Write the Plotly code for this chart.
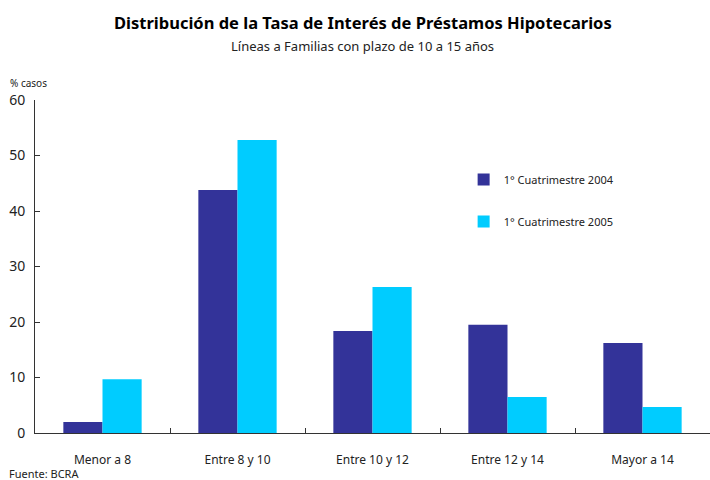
import plotly.graph_objects as go

categories = ["Menor a 8", "Entre 8 y 10", "Entre 10 y 12", "Entre 12 y 14", "Mayor a 14"]
series_2004 = [2.0, 43.8, 18.4, 19.5, 16.2]
series_2005 = [9.7, 52.8, 26.3, 6.5, 4.7]
name_2004 = "1° Cuatrimestre 2004"
name_2005 = "1° Cuatrimestre 2005"
y_ticks = [0, 10, 20, 30, 40, 50, 60]

FONT = "Noto Sans"

fig = go.Figure()
fig.add_trace(go.Bar(x=categories, y=series_2004, name=name_2004,
                     marker=dict(color="#333399", line=dict(width=0)), legendgroup="a"))
fig.add_trace(go.Bar(x=categories, y=series_2005, name=name_2005,
                     marker=dict(color="#00CCFF", line=dict(width=0)), legendgroup="b"))

fig.update_layout(
    width=710, height=480,
    margin=dict(l=35, r=0, t=100, b=47, autoexpand=False),
    paper_bgcolor="white", plot_bgcolor="white",
    barmode="group", bargap=0.42, bargroupgap=0,
    font=dict(family=FONT, size=12, color="#222"),
    showlegend=True,
    legend=dict(x=0.635, y=0.805, xanchor="left", yanchor="top",
                traceorder="grouped", tracegroupgap=23,
                font=dict(size=11, family=FONT), itemwidth=30,
                bgcolor="rgba(0,0,0,0)"),
    xaxis=dict(showline=True, linecolor="#333", linewidth=1, automargin=False,
               ticks="inside", tickson="boundaries", ticklen=5, tickcolor="#333",
               showgrid=False, tickfont=dict(size=12), ticklabelstandoff=16),
    yaxis=dict(range=[0, 60], tickvals=y_ticks, showline=True, linecolor="#333", linewidth=1,
               automargin=False, ticks="inside", ticklen=5, tickcolor="#333", showgrid=False,
               zeroline=False, tickfont=dict(size=14), ticklabelstandoff=6),
    annotations=[
        dict(text="<b>Distribución de la Tasa de Interés de Préstamos Hipotecarios</b>",
             xref="paper", yref="paper", x=0.5, xshift=-10, y=1.0, yshift=78,
             xanchor="center", yanchor="middle",
             showarrow=False, font=dict(size=16.5, color="black", family=FONT)),
        dict(text="Líneas a Familias con plazo de 10 a 15 años",
             xref="paper", yref="paper", x=0.5, xshift=-10, y=1.0, yshift=54,
             xanchor="center", yanchor="middle",
             showarrow=False, font=dict(size=13, color="#222", family=FONT)),
        dict(text="% casos", xref="paper", yref="paper", x=0, xshift=-27, y=1.0, yshift=17,
             xanchor="left", yanchor="middle", showarrow=False, font=dict(size=10, family=FONT)),
        dict(text="Fuente: BCRA", xref="paper", yref="paper", x=0, xshift=-28, y=0, yshift=-40,
             xanchor="left", yanchor="middle", showarrow=False, font=dict(size=11, family=FONT)),
    ],
)

fig.write_html("out.html", config={"displayModeBar": False},
               post_script="document.body.style.margin='0';document.body.style.overflow='hidden';")
